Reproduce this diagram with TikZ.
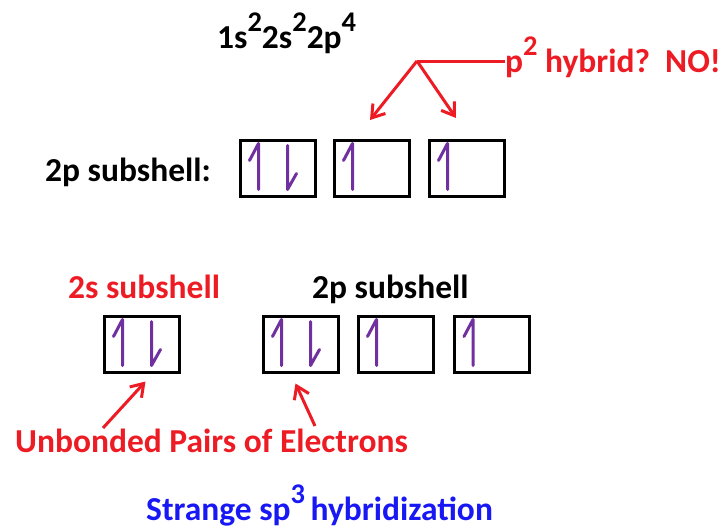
\documentclass[tikz,border=0pt]{standalone}
\usepackage{fontspec}
\setmainfont{Carlito}
\usepackage{graphicx}
\usetikzlibrary{arrows.meta,calc}

\definecolor{ored}{RGB}{237,28,36}
\definecolor{opurple}{RGB}{112,48,160}
\definecolor{oblue}{RGB}{24,24,245}
\newcommand{\upexp}[1]{\raisebox{0.5em}{\scalebox{0.85}{#1}}}

\begin{document}
\begin{tikzpicture}[x=1pt, y=-1pt,
    orb/.style={draw, line width=3pt, minimum width=75pt, minimum height=56pt, inner sep=0pt},
    lbl/.style={anchor=base west, inner sep=0pt, font=\fontsize{33.5}{34}\selectfont\bfseries},
    spin/.style={draw=opurple, line width=3pt, line cap=round, line join=round},
    callout/.style={draw=ored, line width=3pt, -{Straight Barb[length=12pt, width=16pt, line width=3pt]}}
]
\useasboundingbox (0,0) rectangle (726,530);

% configuration and the p^2 question
\node[lbl] (conf) at (217,48) {1s\upexp{2}2s\upexp{2}2p\upexp{4}};
\node[lbl, text=ored] (hyb) at (505,72) {p\upexp{2} hybrid?\ \ NO!};
\coordinate (fork) at (417,61);
\coordinate (tipa) at (370,120);
\coordinate (tipb) at (456,118);
\draw[ored, line width=3pt] (hyb.west |- fork) -- (fork);
\draw[callout] (fork) -- (tipa);
\draw[callout] (fork) -- (tipb);

% ground state 2p
\node[lbl] (tp) at (45,181) {2p subshell:};
\node[orb] (t1) at (277.5,168) {};
\node[orb] (t2) at (371.5,168) {};
\node[orb] (t3) at (466.5,168) {};

% hybridized picture
\node[lbl, text=ored] (ls) at (68,298) {2s subshell};
\node[lbl] (lp) at (312,298) {2p subshell};
\node[orb] (s1) at (141.5,344) {};
\node[orb] (p1) at (300.5,344) {};
\node[orb] (p2) at (395.5,344) {};
\node[orb] (p3) at (492,344) {};

% electrons
\foreach \b in {t1,t2,t3,s1,p1,p2,p3}
  \draw[spin] ($(\b.north west)+(20,51)$) -- ++(0,-46) -- ++(-9,17);
\foreach \b in {t1,s1,p1}
  \draw[spin] ($(\b.north west)+(49,7)$) -- ++(0,44) -- ++(9,-16);

% unbonded pairs
\node[lbl, text=ored] (unb) at (15,452) {Unbonded Pairs of Electrons};
\coordinate (ua) at (103,428);
\coordinate (ub) at (315,426);
\draw[callout] (ua) -- ($(s1.south)+(4,8)$);
\draw[callout] (ub) -- ($(p1.south)+(-5,10)$);

\node[lbl, text=oblue] (strange) at (146,520) {Strange sp\upexp{3}\,hybridization};
\end{tikzpicture}
\end{document}
